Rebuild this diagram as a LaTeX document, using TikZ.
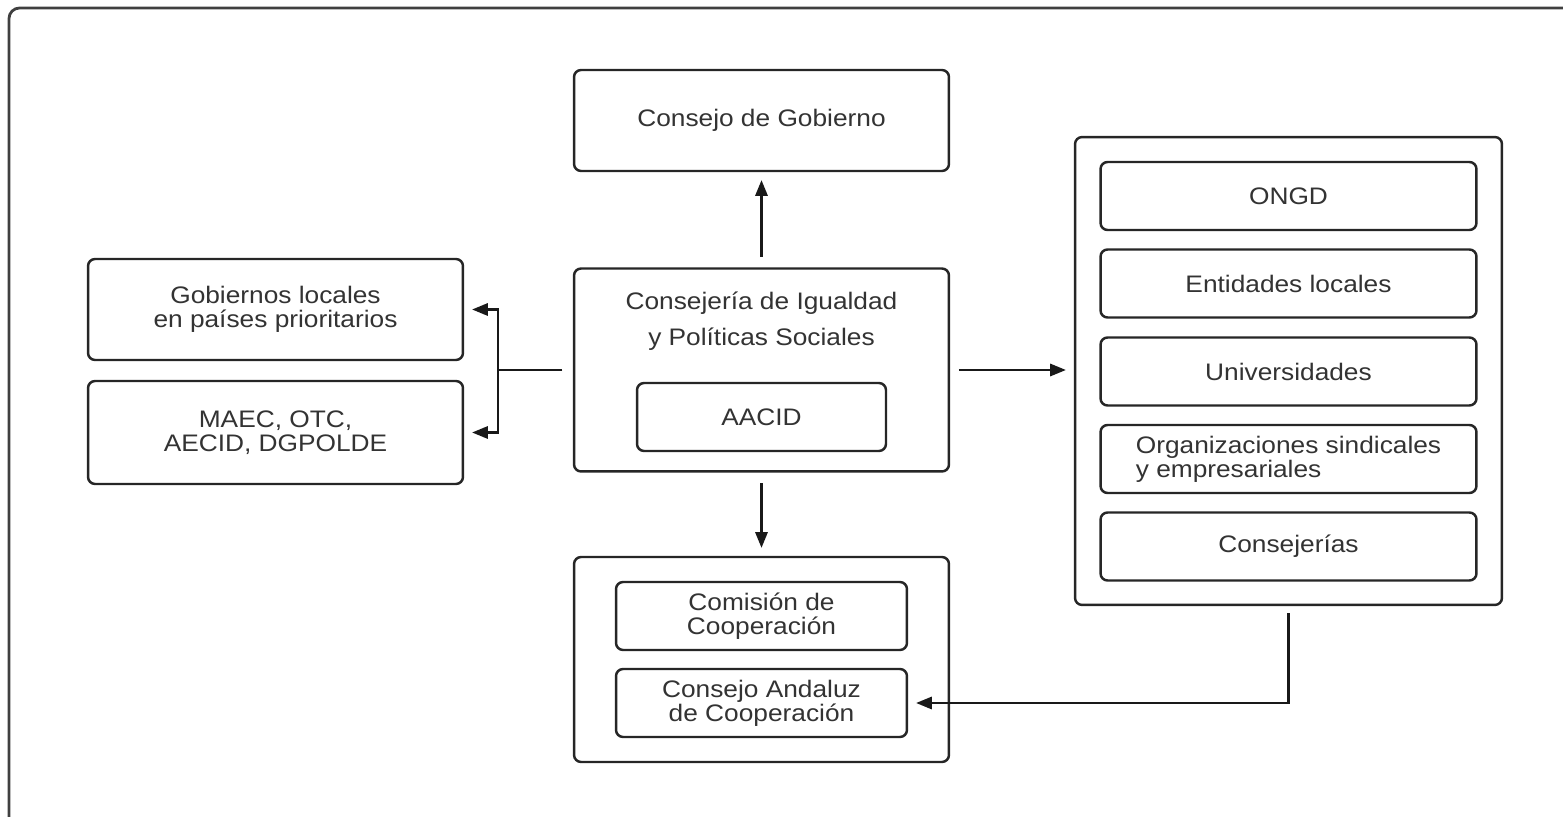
\documentclass[tikz,border=0pt]{standalone}
\usepackage{fontspec}
\setmainfont{Liberation Sans}[FakeStretch=1.1]
\usetikzlibrary{arrows.meta}

\tikzset{
  box/.style={draw=black!85, line width=1.4pt, rounded corners=4pt, fill=white,
    text=black!80, align=center, font=\fontsize{13.6}{13.6}\selectfont},
  wide/.style={box, minimum width=7.5cm, minimum height=2.02cm},
  small/.style={box, minimum width=5.82cm, minimum height=1.36cm},
  entity/.style={box, minimum width=7.52cm, minimum height=1.36cm},
  link/.style={draw=black!90, line width=1.3pt},
  arr/.style={link, -{Triangle[length=9pt,width=7pt]}, shorten >=4.5pt}
}

\begin{document}
\begin{tikzpicture}[x=0.02cm, y=-0.02cm]
    \useasboundingbox (0,0) rectangle (1563,817);
    % outer frame (runs off the page)
    \draw[black!75, line width=1.6pt, rounded corners=6pt] (9,840) -- (9,8) -- (1580,8);

    % centre column
    \node[wide] (gob) at (761.5,120.5) {Consejo de Gobierno};
    \node[box, minimum width=7.5cm, minimum height=4.06cm] (consej) at (761.5,370) {};
    \node[text=black!80, align=center, font=\fontsize{13.6}{20.5}\selectfont] (consejtxt) at (761.5,321)
        {Consejería de Igualdad\\y Políticas Sociales};
    \node[box, minimum width=4.98cm, minimum height=1.36cm] (aacid) at (761.5,417) {AACID};

    \node[box, minimum width=7.5cm, minimum height=4.1cm] (organos) at (761.5,659.5) {};
    \node[small] (comis) at (761.5,616) {Comisión de\\Cooperación};
    \node[small] (andal) at (761.5,703) {Consejo Andaluz\\de Cooperación};

    % left column
    \node[wide] (gobloc) at (275.5,309.5) {Gobiernos locales\\en países prioritarios};
    \node[wide, minimum height=2.06cm] (maec) at (275.5,432.5) {MAEC, OTC,\\AECID, DGPOLDE};

    % right column
    \node[box, minimum width=8.54cm, minimum height=9.36cm] (agentes) at (1288.5,371) {};
    \node[entity] (ongd) at (1288.5,196) {ONGD};
    \node[entity] (entloc) at (1288.5,283.5) {Entidades locales};
    \node[entity] (univ) at (1288.5,371.5) {Universidades};
    \node[entity, align=left] (sindic) at (1288.5,459) {Organizaciones sindicales\\y empresariales};
    \node[entity] (consejerias) at (1288.5,546.5) {Consejerías};

    % connectors
    \coordinate (split) at (498,370);
    \draw[arr, shorten <=6pt] (consej.north) -- (gob.south);
    \draw[arr, shorten <=6pt] (consej.south) -- (organos.north);
    \draw[arr, shorten <=5pt] (consej.east) -- (consej.east -| agentes.west);
    \draw[link, shorten <=6pt] (consej.west) -- (split);
    \draw[arr] (split) |- (gobloc.east);
    \draw[arr] (split) |- (maec.east);
    \draw[arr, shorten <=4pt] (agentes.south) |- (andal.east);
\end{tikzpicture}
\end{document}
